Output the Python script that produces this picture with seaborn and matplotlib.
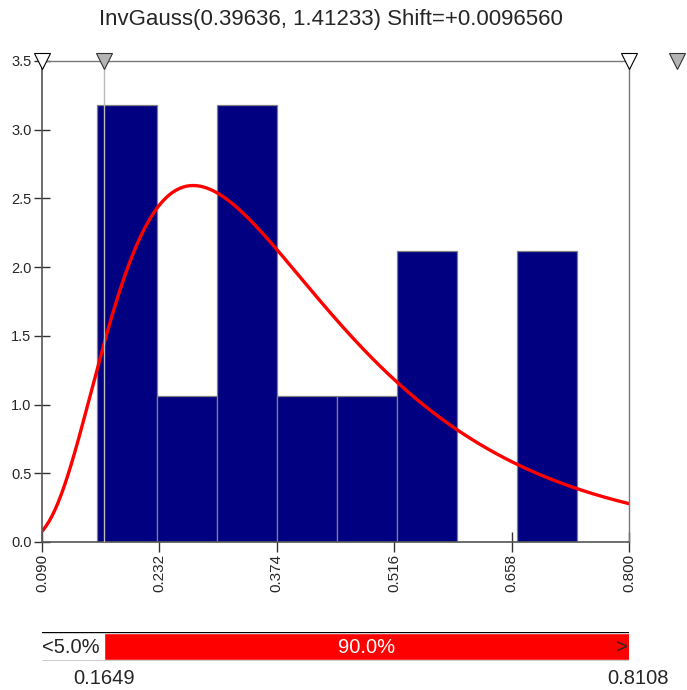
import numpy as np
import pandas as pd
import matplotlib
matplotlib.use("Agg")
import matplotlib.pyplot as plt
import seaborn as sns

# Fitted distribution parameters (from the title)
mu = 0.39636
lam = 1.41233
shift = 0.0096560

# Histogram: bin edges and counts per bin
bin_edges = [0.1565, 0.2291, 0.3017, 0.3743, 0.4469, 0.5195, 0.5921, 0.6647, 0.7373]
bin_counts = [3, 1, 3, 1, 1, 2, 0, 2]

# Axis ticks
x_ticks = [0.090, 0.232, 0.374, 0.516, 0.658, 0.800]
x_tick_labels = ["0.090", "0.232", "0.374", "0.516", "0.658", "0.800"]
y_ticks = [0.0, 0.5, 1.0, 1.5, 2.0, 2.5, 3.0, 3.5]

# Delimiters (5% / 95%)
left_delim = 0.1649
right_delim = 0.8108
band_labels = ["<5.0%", "90.0%", ">"]

sns.set_style("white")
plt.rcParams["font.family"] = ["Liberation Sans", "DejaVu Sans"]

hist_df = pd.DataFrame({
    "center": [(a + b) / 2 for a, b in zip(bin_edges[:-1], bin_edges[1:])],
    "count": bin_counts,
})

fig = plt.figure(figsize=(6.87, 6.90), dpi=100)
ax = fig.add_axes([0.0611, 0.2145, 0.8545, 0.6971])

sns.histplot(data=hist_df, x="center", weights="count", bins=bin_edges, stat="density",
             color="#000080", alpha=1.0, edgecolor="#808080", linewidth=0.9, ax=ax)

# fitted InvGauss density
xs = np.linspace(x_ticks[0], x_ticks[-1], 400)
z = xs - shift
pdf = np.sqrt(lam / (2 * np.pi * z ** 3)) * np.exp(-lam * (z - mu) ** 2 / (2 * mu ** 2 * z))
sns.lineplot(x=xs, y=pdf, color="red", linewidth=2.4, ax=ax)

ax.set_xlim(x_ticks[0], x_ticks[-1])
ax.set_ylim(0, 3.5)
ax.set_xticks(x_ticks)
ax.set_xticklabels(x_tick_labels, rotation=90, fontsize=11)
ax.set_yticks(y_ticks)
ax.set_yticklabels([f"{v:.1f}" for v in y_ticks], fontsize=10.5)
ax.tick_params(axis="x", bottom=True, direction="inout", length=15, width=1, color="#333333", pad=1)
ax.tick_params(axis="y", left=True, direction="inout", length=11, width=1, color="#333333", pad=2)
ax.set_xlabel("")
ax.set_ylabel("")
for side in ["left", "bottom"]:
    ax.spines[side].set_color("#555555")
    ax.spines[side].set_linewidth(1.2)
for side in ["top", "right"]:
    ax.spines[side].set_color("#777777")
    ax.spines[side].set_linewidth(1.0)

# delimiter line and markers
ax.axvline(left_delim, color="#bbbbbb", linewidth=1.0, zorder=5)
ax.plot([x_ticks[0], x_ticks[-1]], [3.5, 3.5], linestyle="none", marker="v", markersize=11,
        markerfacecolor="white", markeredgecolor="black", markeredgewidth=0.8, clip_on=False, zorder=6)
ax.plot([left_delim], [3.5], linestyle="none", marker="v", markersize=11,
        markerfacecolor="#b4b4b4", markeredgecolor="#333333", markeredgewidth=0.8, clip_on=False, zorder=6)
ax.plot([1.081], [1.0], transform=ax.transAxes, linestyle="none", marker="v", markersize=11,
        markerfacecolor="#b4b4b4", markeredgecolor="#333333", markeredgewidth=0.8, clip_on=False, zorder=6)

fig.text(0.482, 0.972, f"InvGauss({mu:.5f}, {lam:.5f}) Shift=+{shift:.7f}",
         ha="center", va="center", fontsize=16)

# percentile band below the chart
band = fig.add_axes([0.0611, 0.042, 0.8545, 0.042])
band.set_xlim(x_ticks[0], x_ticks[-1])
band.set_ylim(0, 1)
band.barh(0.5, right_delim - left_delim, left=left_delim, height=0.92, color="red")
band.axhline(1.0, color="black", linewidth=1.0)
band.axhline(0.0, color="black", linewidth=1.0)
for s in band.spines.values():
    s.set_visible(False)
band.set_xticks([])
band.set_yticks([])
band.text(x_ticks[0], 0.45, band_labels[0], ha="left", va="center", fontsize=14.5)
band.text((left_delim + x_ticks[-1]) / 2, 0.45, band_labels[1], ha="center", va="center",
          fontsize=14.5, color="white")
band.text(x_ticks[-1] - 0.002, 0.45, band_labels[2], ha="right", va="center", fontsize=14.5)
band.text(left_delim, -0.6, f"{left_delim:.4f}", ha="center", va="center", fontsize=14.5)
band.text(right_delim, -0.6, f"{right_delim:.4f}", ha="center", va="center", fontsize=14.5, clip_on=False)

fig.savefig("out.png", dpi=100)
